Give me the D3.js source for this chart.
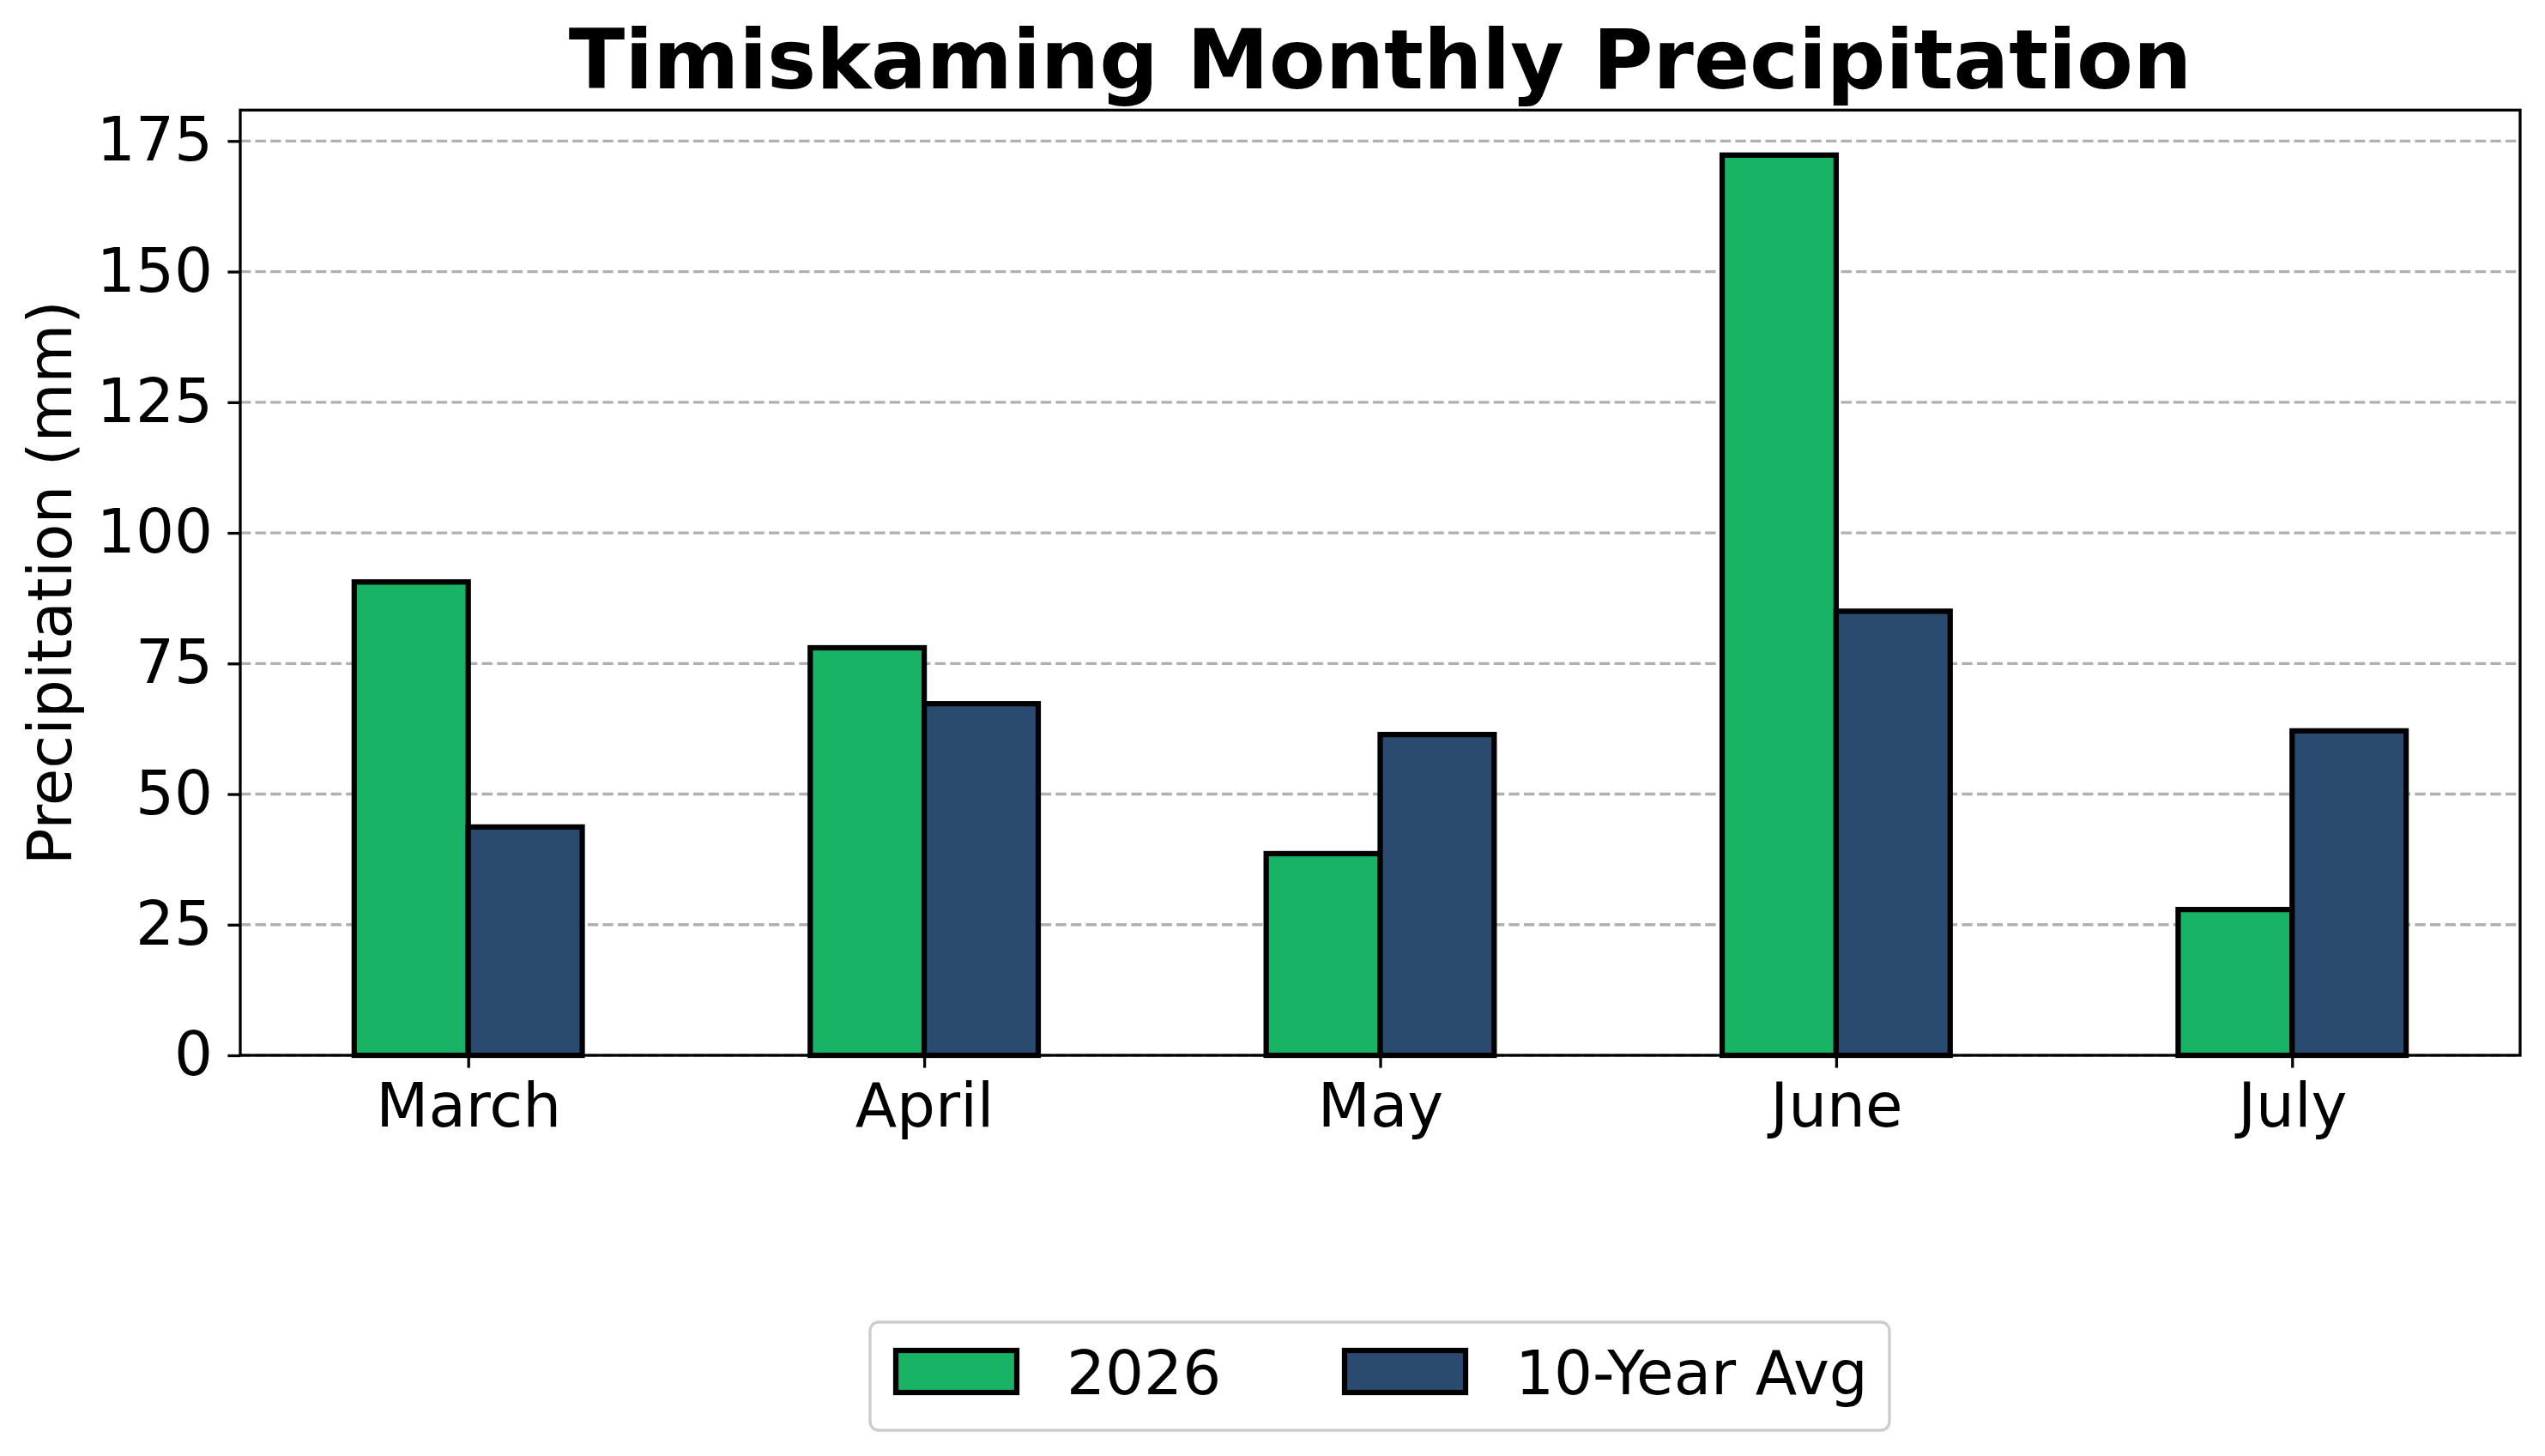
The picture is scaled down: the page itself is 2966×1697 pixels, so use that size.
<!DOCTYPE html>
<html>
<head>
<meta charset="utf-8">
<script src="https://cdn.jsdelivr.net/npm/d3@7"></script>
<style>
  body { margin: 0; background: #fff; }
  text { font-family: "DejaVu Sans", sans-serif; }
</style>
</head>
<body>
<svg id="canvas" width="2966" height="1697"></svg>
<script>
// values
var months = ["March", "April", "May", "June", "July"];
var precip2026 = [90.6, 78.0, 38.6, 172.3, 27.9];
var tenYearAvg = [43.7, 67.3, 61.4, 85.0, 62.1];
var seriesNames = ["2026", "10-Year Avg"];
var seriesColors = ["#19b366", "#2b4a70"];
var yTicks = [0, 25, 50, 75, 100, 125, 150, 175];

drawChart();

function drawChart() {
  var svg = d3.select("#canvas");

  var plotLeft = 280, plotRight = 2937, plotTop = 128.3, plotBottom = 1230;
  var fontPx = 70.8;
  var barW = 0.25;

  var x = d3.scaleLinear().domain([-0.5, months.length - 0.5]).range([plotLeft, plotRight]);
  var yMax = d3.max(precip2026.concat(tenYearAvg)) * 1.05;
  var y = d3.scaleLinear().domain([0, yMax]).range([plotBottom, plotTop]);

  // grid behind the bars
  svg.append("g").selectAll("line")
    .data(yTicks)
    .enter().append("line")
      .attr("x1", plotLeft).attr("x2", plotRight)
      .attr("y1", function(d) { return y(d); })
      .attr("y2", function(d) { return y(d); })
      .attr("stroke", "#b0b0b0")
      .attr("stroke-width", 3.3)
      .attr("stroke-dasharray", "12.3,5.3");

  // bars: one group per series, 2026 left of the tick, average right of it
  var series = [precip2026, tenYearAvg];
  series.forEach(function(vals, s) {
    svg.append("g").selectAll("rect")
      .data(vals)
      .enter().append("rect")
        .attr("x", function(d, i) { return x(i + (s - 1) * barW); })
        .attr("width", x(barW) - x(0))
        .attr("y", function(d) { return y(d); })
        .attr("height", function(d) { return y(0) - y(d); })
        .attr("fill", seriesColors[s])
        .attr("stroke", "#000")
        .attr("stroke-width", 6.25);
  });

  // axes
  var yAxis = d3.axisLeft(y).tickValues(yTicks).tickSize(14.6).tickPadding(17.4);
  var gy = svg.append("g").attr("transform", "translate(" + plotLeft + ",0)").call(yAxis);

  var xAxis = d3.axisBottom(x).tickValues(d3.range(months.length))
    .tickFormat(function(i) { return months[i]; })
    .tickSize(14.6).tickPadding(18);
  var gx = svg.append("g").attr("transform", "translate(0," + plotBottom + ")").call(xAxis);

  [gx, gy].forEach(function(g) {
    g.select(".domain").remove();
    g.selectAll(".tick line").attr("stroke", "#000").attr("stroke-width", 3.3);
    g.selectAll(".tick text")
      .attr("fill", "#000")
      .style("font-family", "'DejaVu Sans', sans-serif")
      .style("font-size", fontPx + "px");
  });

  // frame
  svg.append("rect")
    .attr("x", plotLeft).attr("y", plotTop)
    .attr("width", plotRight - plotLeft).attr("height", plotBottom - plotTop)
    .attr("fill", "none").attr("stroke", "#000").attr("stroke-width", 3.3);

  // title and axis label
  svg.append("text")
    .attr("x", (plotLeft + plotRight) / 2).attr("y", 103)
    .attr("text-anchor", "middle")
    .style("font-size", "96px").style("font-weight", "bold")
    .text("Timiskaming Monthly Precipitation");

  svg.append("text")
    .attr("transform", "translate(83," + (plotTop + plotBottom) / 2 + ") rotate(-90)")
    .attr("text-anchor", "middle")
    .style("font-size", fontPx + "px")
    .text("Precipitation (mm)");

  // legend under the chart
  var legend = svg.append("g");
  legend.append("rect")
    .attr("x", 1014).attr("y", 1541).attr("width", 1188).attr("height", 126)
    .attr("rx", 10).attr("fill", "#fff")
    .attr("stroke", "#cccccc").attr("stroke-width", 3.3);

  var entryX = [1044, 1567];
  seriesNames.forEach(function(name, s) {
    legend.append("rect")
      .attr("x", entryX[s]).attr("y", 1574)
      .attr("width", 141).attr("height", 49)
      .attr("fill", seriesColors[s])
      .attr("stroke", "#000").attr("stroke-width", 6.25);
    legend.append("text")
      .attr("x", entryX[s] + 199).attr("y", 1625)
      .style("font-size", fontPx + "px")
      .text(name);
  });
}
</script>
</body>
</html>
